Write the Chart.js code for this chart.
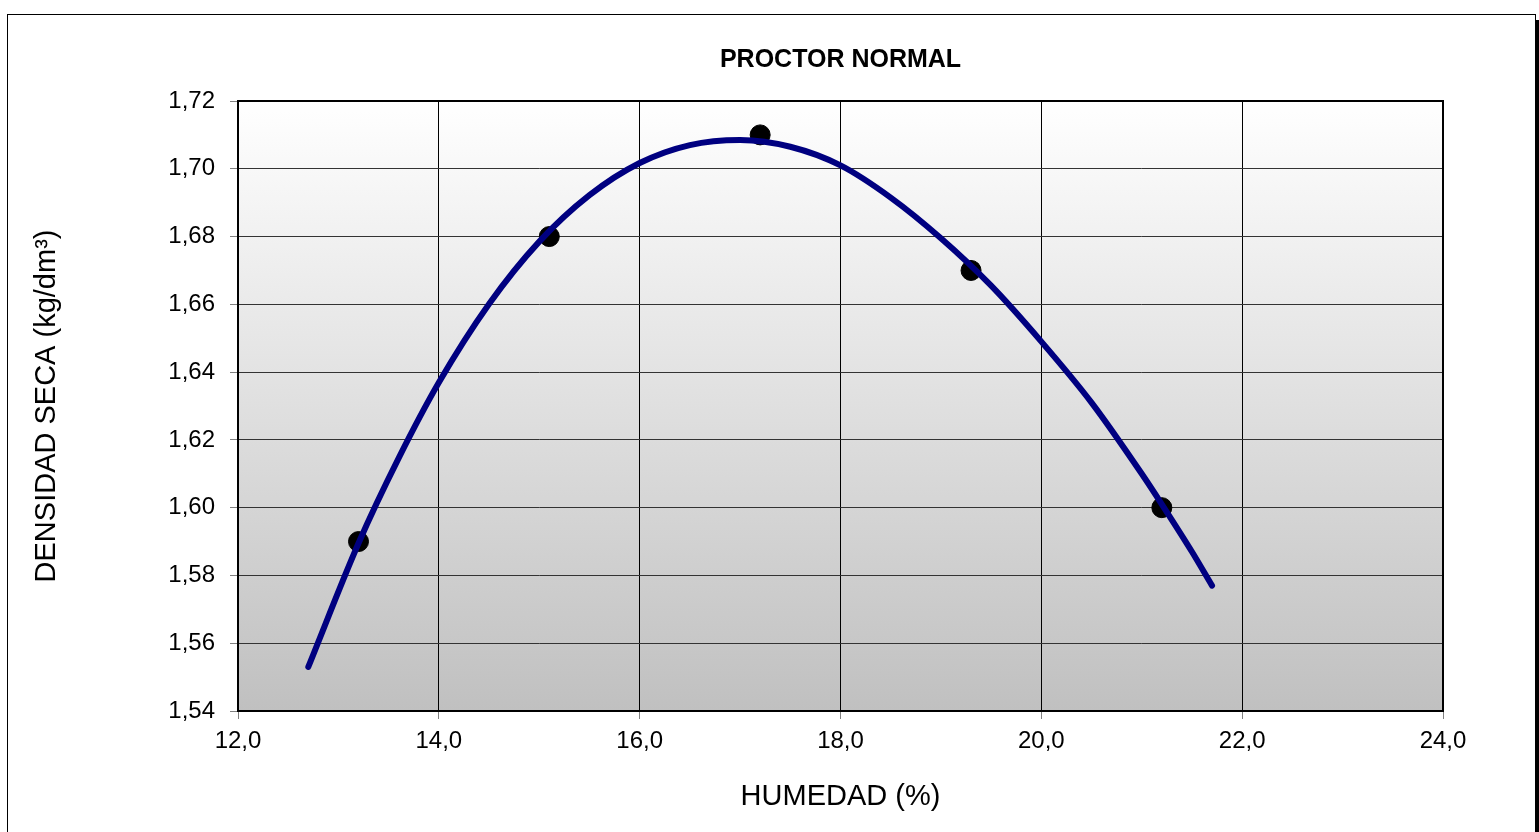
<!DOCTYPE html>
<html>
<head>
<meta charset="utf-8">
<title>Proctor normal</title>
<script src="https://cdn.jsdelivr.net/npm/chart.js@4/dist/chart.umd.min.js"></script>
<style>
  html, body { margin: 0; padding: 0; background: #fff; }
  canvas { display: block; }
</style>
</head>
<body>
<canvas id="myChart" width="1539" height="832"></canvas>
<script>
// ensayo: humedad (%) vs densidad seca
var humedad = [13.2, 15.1, 17.2, 19.3, 21.2];
var densidad = [1.59, 1.68, 1.71, 1.67, 1.60];

// linea de tendencia
var curvaX = [12.7, 13.2, 13.6, 14.0, 14.5, 15.0, 15.5, 16.0, 16.5, 17.0, 17.5, 18.0, 18.5, 19.0, 19.5, 20.0, 20.5, 21.0, 21.2, 21.5, 21.7];
var curvaY = [1.553, 1.5895, 1.6146, 1.6369, 1.6601, 1.6785, 1.6922, 1.7017, 1.707, 1.7085, 1.7065, 1.701, 1.6915, 1.6795, 1.6655, 1.649, 1.631, 1.610, 1.601, 1.587, 1.577];

var ticksX = [12, 14, 16, 18, 20, 22, 24];
var ticksY = [1.54, 1.56, 1.58, 1.60, 1.62, 1.64, 1.66, 1.68, 1.70, 1.72];

var fuente = "'Liberation Sans', Arial, sans-serif";

function pares(xs, ys) {
    return xs.map(function(x, i) { return {x: x, y: ys[i]}; });
}

// fondo degradado del area de trazado + marco exterior
var fondo = {
    id: 'fondo',
    beforeDraw: function(chart) {
        var c = chart.ctx, a = chart.chartArea;
        c.save();
        c.strokeStyle = '#000';
        c.lineWidth = 1;
        c.strokeRect(7.5, 14.5, 1528, 830);
        c.fillStyle = '#000';
        c.fillRect(1536, 20, 3, 812);
        var g = c.createLinearGradient(0, a.top, 0, a.bottom);
        g.addColorStop(0, '#ffffff');
        g.addColorStop(1, '#c0c0c0');
        c.fillStyle = g;
        c.fillRect(a.left, a.top, a.right - a.left, a.bottom - a.top);
        c.restore();
    },
    afterDraw: function(chart) {
        var c = chart.ctx, a = chart.chartArea;
        c.save();
        c.strokeStyle = '#000';
        c.lineWidth = 2;
        c.strokeRect(a.left, a.top, a.right - a.left, a.bottom - a.top);
        c.restore();
    }
};

var ctx = document.getElementById('myChart').getContext('2d');
var myChart = new Chart(ctx, {
    type: 'scatter',
    data: {
        datasets: [{
            label: 'Ensayo',
            data: pares(humedad, densidad),
            backgroundColor: '#000',
            borderColor: '#000',
            pointRadius: 10,
            pointHoverRadius: 10,
            order: 2
        }, {
            label: 'Tendencia',
            type: 'line',
            data: pares(curvaX, curvaY),
            borderColor: '#000080',
            borderWidth: 6,
            borderCapStyle: 'round',
            borderJoinStyle: 'round',
            cubicInterpolationMode: 'monotone',
            pointRadius: 0,
            fill: false,
            order: 1
        }]
    },
    options: {
        responsive: false,
        animation: false,
        layout: { padding: { left: 0, right: 96, top: 0, bottom: 0 } },
        plugins: {
            legend: { display: false },
            tooltip: { enabled: false },
            title: {
                display: true,
                fullSize: false,
                text: 'PROCTOR NORMAL',
                color: '#000',
                font: { family: fuente, size: 25, weight: 'bold' },
                padding: { top: 45, bottom: 26 }
            }
        },
        scales: {
            x: {
                type: 'linear',
                min: 12,
                max: 24,
                afterFit: function(s) { s.height = 121; },
                afterBuildTicks: function(s) { s.ticks = ticksX.map(function(v) { return {value: v}; }); },
                grid: { color: '#000', lineWidth: 1, tickLength: 8, tickColor: '#808080' },
                border: { display: false },
                ticks: {
                    color: '#000',
                    padding: 8,
                    maxRotation: 0,
                    font: { family: fuente, size: 24 },
                    callback: function(v) { return v.toFixed(1).replace('.', ','); }
                },
                title: {
                    display: true,
                    text: 'HUMEDAD (%)',
                    color: '#000',
                    font: { family: fuente, size: 29 },
                    padding: { top: 0, bottom: 18 }
                }
            },
            y: {
                type: 'linear',
                min: 1.54,
                max: 1.72,
                afterFit: function(s) { s.width = 238; },
                afterBuildTicks: function(s) { s.ticks = ticksY.map(function(v) { return {value: v}; }); },
                grid: { color: '#333', lineWidth: 1, tickLength: 8, tickColor: '#808080' },
                border: { display: false },
                ticks: {
                    color: '#000',
                    padding: 15,
                    font: { family: fuente, size: 24 },
                    callback: function(v) { return v.toFixed(2).replace('.', ','); }
                },
                title: {
                    display: true,
                    text: 'DENSIDAD SECA (kg/dm³)',
                    color: '#000',
                    font: { family: fuente, size: 29 },
                    padding: { top: 30, bottom: 0 }
                }
            }
        }
    },
    plugins: [fondo]
});
</script>
</body>
</html>
